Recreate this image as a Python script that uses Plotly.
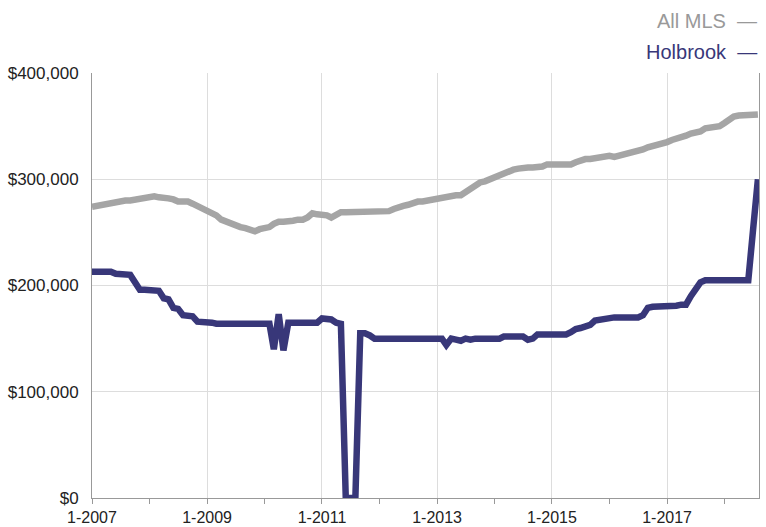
import pandas as pd
import plotly.graph_objects as go

months = pd.date_range("2007-01-01", periods=140, freq="MS")

all_mls = [
    274, 275, 276, 277, 278, 279, 280, 280, 280, 281,
    282, 283, 284, 284, 283, 283, 282, 281, 279, 279,
    279, 277, 275, 273, 271, 269, 266, 262, 260, 258,
    256, 255, 254, 253, 251, 253, 254, 255, 258, 260,
    260, 260, 261, 262, 262, 264, 268, 267, 267, 266,
    264, 267, 269, 269, 269, 269, 269, 269, 269, 269,
    269, 269, 270, 272, 274, 275, 276, 278, 279, 279,
    280, 281, 281, 282, 284, 285, 285, 285, 288, 291,
    294, 297, 298, 300, 302, 303, 306, 308, 309, 310,
    311, 311, 311, 311, 312, 314, 314, 314, 314, 314,
    314, 316, 318, 319, 319, 320, 321, 322, 322, 321,
    322, 324, 325, 325, 327, 328, 330, 331, 333, 334,
    335, 337, 338, 340, 341, 343, 344, 345, 348, 349,
    349, 350, 353, 356, 359, 360, 360, 361, 360, 361,
]

holbrook = [
    213, 213, 213, 213, 213, 211, 211, 211, 210, 203,
    196, 196, 196, 196, 195, 188, 187, 179, 178, 172,
    172, 171, 166, 166, 166, 165, 164, 164, 165, 165,
    165, 165, 165, 165, 165, 165, 165, 164, 140, 173,
    139, 165, 165, 165, 165, 165, 165, 165, 169, 169,
    168, 165, 164, 0, 0, 0, 155, 155, 153, 150,
    150, 150, 150, 150, 150, 150, 150, 150, 150, 150,
    150, 150, 150, 150, 144, 150, 149, 148, 150, 149,
    150, 150, 150, 150, 150, 150, 152, 152, 153, 152,
    152, 149, 150, 154, 154, 154, 154, 154, 154, 154,
    156, 159, 160, 161, 163, 167, 168, 169, 170, 170,
    170, 170, 170, 170, 170, 172, 179, 180, 180, 180,
    181, 181, 181, 182, 182, 190, 197, 203, 205, 205,
    205, 205, 205, 205, 205, 205, 205, 205, 252, 300,
]

GRAY = "#a5a5a5"
BLUE = "#383779"
FONT = "Liberation Sans, Arial, sans-serif"

fig = go.Figure()
fig.add_trace(go.Scatter(x=months, y=[v * 1000 for v in all_mls], mode="lines",
                         name="All MLS", line=dict(color=GRAY, width=6.5)))
fig.add_trace(go.Scatter(x=months, y=[v * 1000 for v in holbrook], mode="lines",
                         name="Holbrook", line=dict(color=BLUE, width=6.5)))

fig.update_layout(
    width=766, height=527,
    margin=dict(l=92, r=7, t=73, b=29, autoexpand=False),
    paper_bgcolor="white", plot_bgcolor="white",
    showlegend=False,
    font=dict(family=FONT, size=16, color="#222222"),
)
fig.update_xaxes(
    type="date", automargin=False,
    range=["2007-01-01", "2018-08-08"],
    dtick="M24", tick0="2007-01-01", tickformat="%-m-%Y",
    ticks="outside", ticklen=5, tickcolor="#999999",
    showgrid=True, gridcolor="#dddddd", gridwidth=1,
    showline=True, linecolor="#999999", linewidth=1,
    minor=dict(dtick="M12", tick0="2007-01-01", ticks="outside", ticklen=5,
               tickcolor="#999999", showgrid=False),
    tickfont=dict(size=16, color="#222222"),
    zeroline=False,
)
fig.update_yaxes(
    range=[0, 400000], dtick=100000, automargin=False,
    tickprefix="$", tickformat=",d",
    showgrid=True, gridcolor="#dddddd", gridwidth=1,
    showline=True, linecolor="#999999", linewidth=1, mirror=True,
    ticks="", zeroline=False, ticklabelstandoff=9,
    tickfont=dict(size=17, color="#222222"),
)

fig.add_annotation(xref="paper", yref="paper", x=1.0, y=1.0, yshift=52,
                   xanchor="right", yanchor="middle", showarrow=False,
                   text="All MLS  —", font=dict(family=FONT, size=20, color="#999999"))
fig.add_annotation(xref="paper", yref="paper", x=1.0, y=1.0, yshift=21,
                   xanchor="right", yanchor="middle", showarrow=False,
                   text="Holbrook  —", font=dict(family=FONT, size=20, color=BLUE))

fig.write_html("out.html", config={"displayModeBar": False},
               post_script="document.body.style.margin='0';document.body.style.overflow='hidden';")
